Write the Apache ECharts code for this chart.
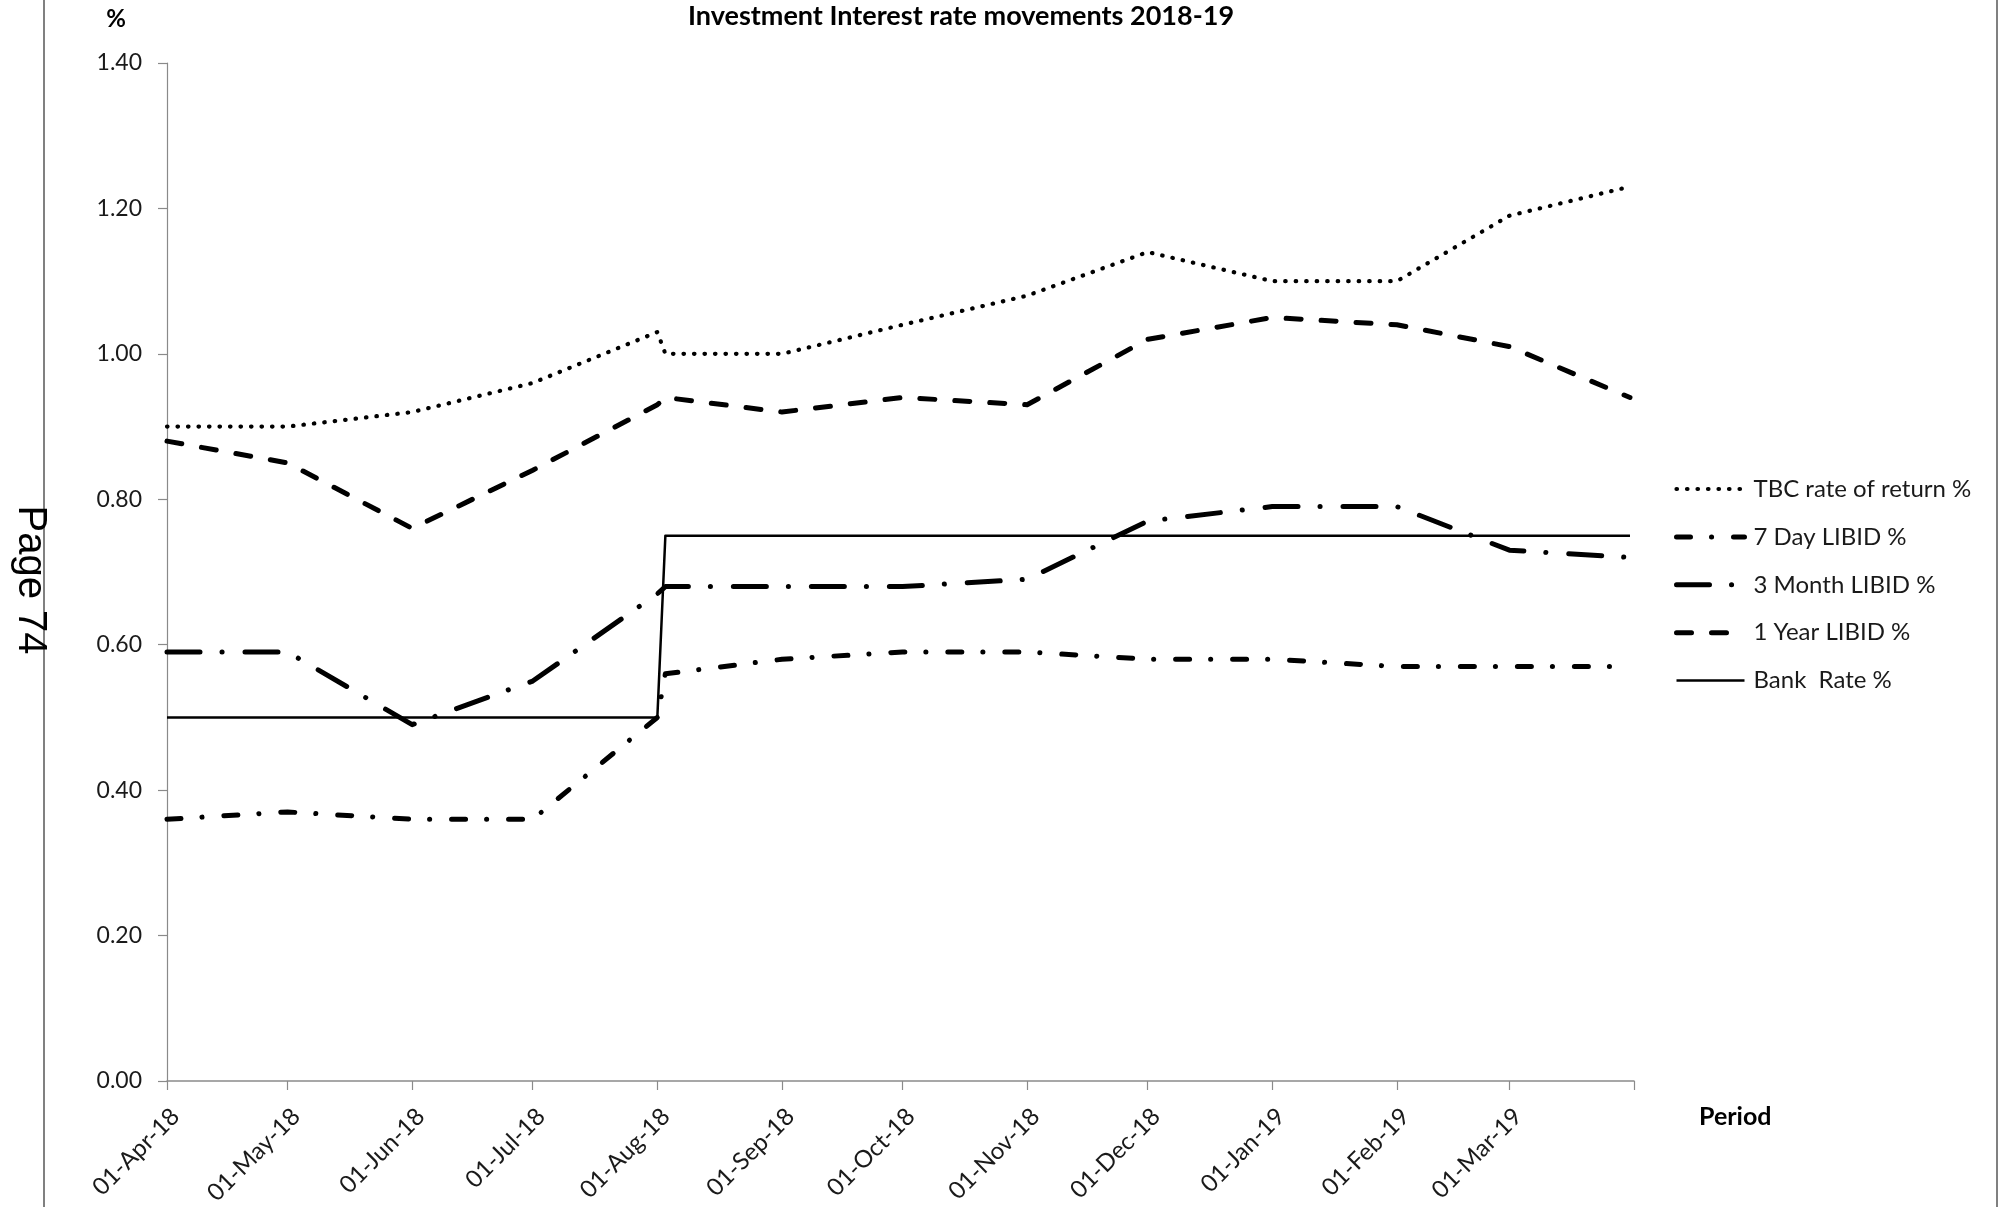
<!DOCTYPE html>
<html>
<head>
<meta charset="utf-8">
<title>Investment Interest rate movements 2018-19</title>
<script src="https://cdn.jsdelivr.net/npm/echarts@6/dist/echarts.min.js"></script>
<style>
  html, body { margin: 0; padding: 0; background: #ffffff; }
  #chart { width: 1999px; height: 1207px; }
</style>
</head>
<body>
<div id="chart"></div>
<script>
// Observation dates (start of each month, plus the Bank Rate change in early August and year end)
const dates = ['2018-04-01', '2018-05-01', '2018-06-01', '2018-07-01', '2018-08-01', '2018-08-03',
               '2018-09-01', '2018-10-01', '2018-11-01', '2018-12-01', '2019-01-01', '2019-02-01',
               '2019-03-01', '2019-03-31'];

// Rates in %
const tbcReturn   = [0.90, 0.90, 0.92, 0.96, 1.03, 1.00, 1.00, 1.04, 1.08, 1.14, 1.10, 1.10, 1.19, 1.23];
const libid7Day   = [0.36, 0.37, 0.36, 0.36, 0.50, 0.56, 0.58, 0.59, 0.59, 0.58, 0.58, 0.57, 0.57, 0.57];
const libid3Month = [0.59, 0.59, 0.49, 0.55, 0.67, 0.68, 0.68, 0.68, 0.69, 0.77, 0.79, 0.79, 0.73, 0.72];
const libid1Year  = [0.88, 0.85, 0.76, 0.84, 0.93, 0.94, 0.92, 0.94, 0.93, 1.02, 1.05, 1.04, 1.01, 0.94];
const bankRate    = [0.50, 0.50, 0.50, 0.50, 0.50, 0.75, 0.75, 0.75, 0.75, 0.75, 0.75, 0.75, 0.75, 0.75];

// Axis ticks (monthly) and their labels
const tickDates = ['2018-04-01', '2018-05-01', '2018-06-01', '2018-07-01', '2018-08-01', '2018-09-01',
                   '2018-10-01', '2018-11-01', '2018-12-01', '2019-01-01', '2019-02-01', '2019-03-01',
                   '2019-04-01'];
const labelDates = tickDates.slice(0, 12);
const monthNames = ['Jan', 'Feb', 'Mar', 'Apr', 'May', 'Jun', 'Jul', 'Aug', 'Sep', 'Oct', 'Nov', 'Dec'];

const seriesNames = ['TBC rate of return %', '7 Day LIBID %', '3 Month LIBID %', '1 Year LIBID %', 'Bank  Rate %'];

const DAY = 86400000;
// Dates are held as whole days since the Unix epoch (UTC) so the axis is a plain linear scale
function toDay(s) {
  const p = s.split('-').map(Number);
  return Date.UTC(p[0], p[1] - 1, p[2]) / DAY;
}
function fmtDate(v) {
  const d = new Date(Math.round(v) * DAY);
  return String(d.getUTCDate()).padStart(2, '0') + '-' + monthNames[d.getUTCMonth()] + '-' + String(d.getUTCFullYear()).slice(2);
}
function pairs(values) {
  return dates.map((d, i) => [toDay(d), values[i]]);
}

const FONT = 'Lato';
const AXIS_GREY = '#8a8a8a';
const TEXT = '#1a1a1a';

function lineSeries(name, values, width, dash) {
  return {
    name: name,
    type: 'line',
    data: pairs(values),
    symbol: 'none',
    showSymbol: false,
    smooth: false,
    animation: false,
    emphasis: { disabled: true },
    itemStyle: { color: '#000000' },
    lineStyle: { color: '#000000', width: width, type: dash, cap: dash === 'solid' ? 'butt' : 'round', join: 'round' }
  };
}

const chart = echarts.init(document.getElementById('chart'), null, { renderer: 'canvas' });

chart.setOption({
  backgroundColor: '#ffffff',
  animation: false,
  grid: { left: 167, right: 365, top: 63, bottom: 126, containLabel: false, outerBoundsMode: 'none' },
  xAxis: {
    type: 'value',
    min: toDay('2018-04-01'),
    max: toDay('2019-04-01'),
    axisLine: { show: true, lineStyle: { color: AXIS_GREY, width: 1.5 } },
    axisTick: { show: true, length: 9, customValues: tickDates.map(toDay), lineStyle: { color: AXIS_GREY, width: 1.2 } },
    axisLabel: {
      show: true,
      customValues: labelDates.map(toDay),
      formatter: fmtDate,
      rotate: 45,
      margin: 23,
      verticalAlign: 'top',
      fontFamily: FONT,
      fontSize: 24,
      color: TEXT
    },
    splitLine: { show: false }
  },
  yAxis: {
    type: 'value',
    min: 0,
    max: 1.4,
    interval: 0.2,
    axisLine: { show: true, lineStyle: { color: AXIS_GREY, width: 1.2 } },
    axisTick: { show: true, length: 9, lineStyle: { color: AXIS_GREY, width: 1.2 } },
    axisLabel: {
      formatter: v => v.toFixed(2),
      margin: 25,
      fontFamily: FONT,
      fontSize: 23,
      color: TEXT
    },
    splitLine: { show: false }
  },
  legend: {
    orient: 'vertical',
    left: 1674,
    top: 477,
    padding: 0,
    itemWidth: 68,
    itemHeight: 22,
    itemGap: 23.9,
    selectedMode: false,
    data: seriesNames,
    itemStyle: { opacity: 0 },
    lineStyle: { width: 'inherit', type: 'inherit', cap: 'inherit' },
    textStyle: { fontFamily: FONT, fontSize: 24, color: TEXT, lineHeight: 22, padding: [0, 0, 0, 4] }
  },
  series: [
    lineSeries(seriesNames[0], tbcReturn, 4.2, [0.5, 10]),
    lineSeries(seriesNames[1], libid7Day, 5, [14, 21, 0.1, 21.9]),
    lineSeries(seriesNames[2], libid3Month, 5, [33, 22, 0.1, 22.9]),
    lineSeries(seriesNames[3], libid1Year, 5, [15, 20]),
    lineSeries(seriesNames[4], bankRate, 2.5, 'solid')
  ],
  graphic: [
    { type: 'line', shape: { x1: 44, y1: 0, x2: 44, y2: 1207 }, style: { stroke: '#808080', lineWidth: 2 }, silent: true },
    { type: 'line', shape: { x1: 1997, y1: 0, x2: 1997, y2: 1207 }, style: { stroke: '#808080', lineWidth: 2 }, silent: true },
    { type: 'text', x: 961, y: 16, silent: true,
      style: { text: 'Investment Interest rate movements 2018-19', fontFamily: FONT, fontWeight: 'bold', fontSize: 27,
               fill: '#000000', align: 'center', verticalAlign: 'middle' } },
    { type: 'text', x: 116, y: 19, silent: true,
      style: { text: '%', fontFamily: FONT, fontWeight: 'bold', fontSize: 24, fill: '#000000', align: 'center', verticalAlign: 'middle' } },
    { type: 'text', x: 1699, y: 1117, silent: true,
      style: { text: 'Period', fontFamily: FONT, fontWeight: 'bold', fontSize: 25, fill: '#000000', align: 'left', verticalAlign: 'middle' } },
    { type: 'text', x: 30, y: 580, rotation: -Math.PI / 2, silent: true,
      style: { text: 'Page 74', fontFamily: 'Liberation Sans', fontSize: 40, fill: '#000000', align: 'center', verticalAlign: 'middle' } }
  ]
});
</script>
</body>
</html>
